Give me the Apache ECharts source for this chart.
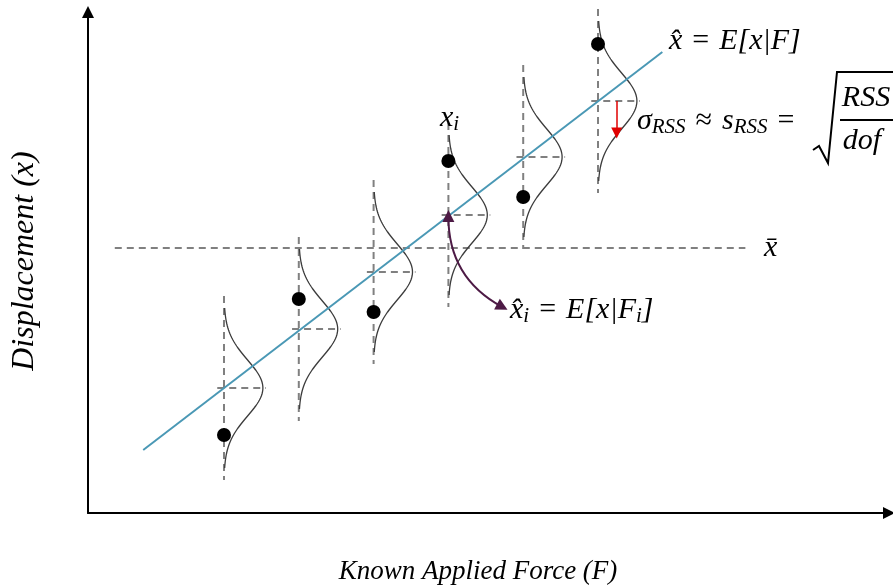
<!DOCTYPE html>
<html>
<head>
<meta charset="utf-8">
<script src="https://cdn.jsdelivr.net/npm/echarts@6/dist/echarts.min.js"></script>
<style>
html, body { margin: 0; padding: 0; background: #fff; }
#main { width: 893px; height: 587px; }
</style>
</head>
<body>
<div id="main"></div>
<script>
// known applied force for each measurement column
var forces = [1, 2, 3, 4, 5, 6];
// measured displacement (black dots)
var measured = [7.8, 21.4, 20.1, 35.2, 31.6, 46.9];
// fitted displacement on the regression line at each force
var fitted = [12.5, 18.4, 24.1, 29.8, 35.6, 41.2];
// regression line end points
var lineF = [-0.08, 6.86];
var lineX = [6.3, 46.1];
// mean displacement and the extent of its dashed line
var meanX = 26.5;
var meanF = [-0.46, 7.97];
// residual standard deviation drawn by the bells
var sigmaRSS = 2.8;
// annotation arrows
var sigmaArrow = [[6.25, 41.2], [6.25, 38.0]];
var fitArrow = [[4.0, 29.7], [4.72, 20.6]];

var serif = '"Liberation Serif", "DejaVu Serif", serif';
var dashStyle = { stroke: '#808080', lineWidth: 2, lineDash: [7, 5] };

function renderBell(params, api) {
    var F = api.value(0), m = api.value(1);
    var top = api.coord([F, m + 9.2]);
    var bot = api.coord([F, m - 9.2]);
    var dl = api.coord([F - 0.09, m]);
    var dr = api.coord([F + 0.56, m]);
    var pts = [];
    for (var t = -8; t <= 8.001; t += 0.2) {
        pts.push(api.coord([F + 0.52 * Math.exp(-t * t / (2 * sigmaRSS * sigmaRSS)), m + t]));
    }
    return {
        type: 'group',
        children: [
            { type: 'line', shape: { x1: top[0], y1: top[1], x2: bot[0], y2: bot[1] }, style: dashStyle },
            { type: 'line', shape: { x1: dl[0], y1: dl[1], x2: dr[0], y2: dr[1] }, style: dashStyle },
            { type: 'polyline', shape: { points: pts }, style: { stroke: '#3c3c3c', lineWidth: 1.3, fill: 'none' } }
        ]
    };
}

var rich = {
    m: { fontSize: 30, fontStyle: 'italic', fontFamily: serif, fill: '#000', lineHeight: 34 },
    s: { fontSize: 21, fontStyle: 'italic', fontFamily: serif, fill: '#000', lineHeight: 20, verticalAlign: 'bottom' },
    op: { fontSize: 30, fontFamily: serif, fill: '#000', lineHeight: 34, padding: [0, 10, 0, 10] }
};

function label(x, y, text, align) {
    return { type: 'text', x: x, y: y, z: 100,
        style: { text: text, rich: rich, align: align || 'left', verticalAlign: 'middle' } };
}

var chart = echarts.init(document.getElementById('main'));
chart.setOption({
    animation: false,
    grid: { left: 88, right: 4, top: 12, bottom: 74, outerBoundsMode: 'none' },
    xAxis: {
        type: 'value', min: -0.818, max: 9.89,
        axisLine: { show: true, onZero: false, symbol: ['none', 'triangle'], symbolSize: [12, 12],
            lineStyle: { color: '#000', width: 2 } },
        axisTick: { show: false }, axisLabel: { show: false }, splitLine: { show: false }
    },
    yAxis: {
        type: 'value', min: 0, max: 50.1,
        axisLine: { show: true, onZero: false, symbol: ['none', 'triangle'], symbolSize: [12, 12],
            lineStyle: { color: '#000', width: 2 } },
        axisTick: { show: false }, axisLabel: { show: false }, splitLine: { show: false }
    },
    series: [
        {
            type: 'line', silent: true, showSymbol: false,
            data: [[meanF[0], meanX], [meanF[1], meanX]],
            lineStyle: { color: '#808080', width: 2, type: [7, 5] }, z: 1
        },
        {
            type: 'custom', silent: true, renderItem: renderBell, z: 2,
            data: forces.map(function (f, i) { return [f, fitted[i]]; })
        },
        {
            type: 'line', silent: true, showSymbol: false,
            data: [[lineF[0], lineX[0]], [lineF[1], lineX[1]]],
            lineStyle: { color: '#4a98b5', width: 2 }, z: 3
        },
        {
            type: 'scatter', silent: true, symbolSize: 14, z: 4,
            itemStyle: { color: '#000', opacity: 1 },
            data: forces.map(function (f, i) { return [f, measured[i]]; })
        },
        {
            type: 'lines', coordinateSystem: 'cartesian2d', silent: true, z: 5,
            symbol: ['none', 'triangle'], symbolSize: 11,
            lineStyle: { color: '#e00000', width: 1.5, opacity: 1 },
            data: [{ coords: sigmaArrow }]
        },
        {
            type: 'lines', coordinateSystem: 'cartesian2d', silent: true, z: 5,
            symbol: ['triangle', 'triangle'], symbolSize: 12,
            lineStyle: { color: '#4d1a45', width: 2, opacity: 1, curveness: -0.3 },
            data: [{ coords: fitArrow }]
        }
    ],
    graphic: [
        label(669, 41, '{m|x\u0302}{op|=}{m|E[x|F]}'),
        label(440, 118, '{m|x}{s|i}'),
        label(510, 310, '{m|x\u0302}{s|i}{op|=}{m|E[x|F}{s|i}{m|]}'),
        label(764, 248, '{m|x\u0304}'),
        label(637, 121, '{m|\u03c3}{s|RSS}{op|\u2248}{m|s}{s|RSS}{op|=}'),
        label(866, 98, '{m|RSS}', 'center'),
        label(862, 141, '{m|dof}', 'center'),
        { type: 'line', shape: { x1: 840, y1: 120, x2: 893, y2: 120 }, style: { stroke: '#000', lineWidth: 2 } },
        { type: 'polyline', shape: { points: [[813, 150], [819, 146], [828, 163], [837, 72], [893, 72]] },
            style: { stroke: '#000', lineWidth: 2, fill: 'none' } },
        { type: 'text', x: 478, y: 572, style: { text: 'Known Applied Force (F)', font: 'italic 27px ' + serif,
            fill: '#000', align: 'center', verticalAlign: 'middle' } },
        { type: 'text', x: 25, y: 261, rotation: Math.PI / 2, style: { text: 'Displacement (x)',
            font: 'italic 32px ' + serif, fill: '#000', align: 'center', verticalAlign: 'middle' } }
    ]
});
</script>
</body>
</html>
